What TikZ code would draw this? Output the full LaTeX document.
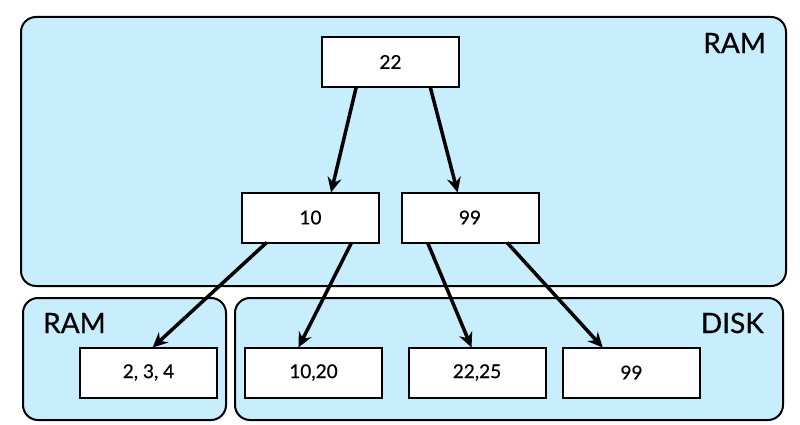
\documentclass[tikz,border=0pt]{standalone}
\usepackage{fontspec}
\setmainfont{Lato}
\newfontface\keyfont{Lato}[FakeBold=0.6]
\usetikzlibrary{arrows.meta,calc}
\definecolor{regionblue}{RGB}{200,238,253}
\tikzset{
  region/.style={draw=black, line width=2pt, fill=regionblue, rounded corners=15pt, inner sep=0pt, outer sep=0pt},
  keybox/.style={draw=black, line width=2pt, fill=white, minimum width=137pt, minimum height=50pt, inner sep=0pt, outer sep=0pt, font=\keyfont\fontsize{19}{19}\selectfont},
  regionlabel/.style={inner sep=0pt, font=\keyfont\fontsize{28}{28}\selectfont},
  ptr/.style={line width=3.5pt, -{Stealth[length=15pt,width=14pt,inset=5pt]}}
}
\begin{document}
\begin{tikzpicture}[x=1pt,y=-1pt]
\useasboundingbox (0,0) rectangle (800,425);
% regions
\node[region, minimum width=765pt, minimum height=269pt] (ramtop) at (403.5,151.5) {};
\node[region, minimum width=203pt, minimum height=122pt] (ramleft) at (124.5,359) {};
\node[region, minimum width=548pt, minimum height=122pt] (disk) at (509,359) {};
\node[regionlabel, anchor=east] (lblramtop) at (766,43) {RAM};
\node[regionlabel, anchor=west] (lblramleft) at (43,323) {RAM};
\node[regionlabel, anchor=east] (lbldisk) at (764,323) {DISK};
% tree nodes
\node[keybox] (root) at (390.5,62) {22};
\node[keybox] (n10) at (310.5,217.5) {10};
\node[keybox] (n99) at (470,217.5) {99};
\node[keybox] (l234) at (148.5,372.5) {2, 3, 4};
\node[keybox] (l1020) at (313.5,372.5) {10,20};
\node[keybox] (l2225) at (477,372.5) {22,25};
\node[keybox] (l99) at (631.5,372.5) {99};
% pointers
\draw[ptr] ($(root.south west)!0.25!(root.south east)$) -- ($(n10.north west)!0.65!(n10.north east)$);
\draw[ptr] ($(root.south west)!0.79!(root.south east)$) -- ($(n99.north west)!0.41!(n99.north east)$);
\draw[ptr] ($(n10.south west)!0.18!(n10.south east)$) -- ($(l234.north west)!0.53!(l234.north east)$);
\draw[ptr] ($(n10.south west)!0.80!(n10.south east)$) -- ($(l1020.north west)!0.39!(l1020.north east)$);
\draw[ptr] ($(n99.south west)!0.19!(n99.south east)$) -- ($(l2225.north west)!0.46!(l2225.north east)$);
\draw[ptr] ($(n99.south west)!0.77!(n99.south east)$) -- ($(l99.north west)!0.29!(l99.north east)$);
\end{tikzpicture}
\end{document}
